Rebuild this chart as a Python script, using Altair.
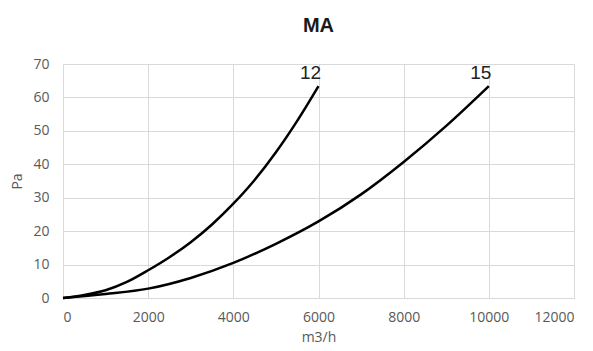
import altair as alt
import pandas as pd

# Curve "12"
q12 = [0, 500, 1000, 1500, 2000, 2500, 3000, 3500, 4000, 4500, 5000, 5500, 6000]
dp12 = [0, 0.9, 2.3, 4.8, 8.3, 12.2, 16.7, 22.0, 28.2, 35.3, 43.6, 53.0, 63.4]
# Curve "15"
q15 = [0, 1000, 2000, 3000, 4000, 5000, 6000, 7000, 8000, 9000, 10000]
dp15 = [0, 1.2, 2.8, 6.0, 10.5, 16.2, 22.9, 31.0, 40.7, 51.5, 63.4]

series_names = ["12", "15"]
x_ticks = [0, 2000, 4000, 6000, 8000, 10000, 12000]
y_ticks = [0, 10, 20, 30, 40, 50, 60, 70]

df = pd.concat([
    pd.DataFrame({"q": q12, "dp": dp12, "s": series_names[0]}),
    pd.DataFrame({"q": q15, "dp": dp15, "s": series_names[1]}),
])
labels = pd.DataFrame({
    "q": [q12[-1], q15[-1]],
    "dp": [dp12[-1], dp15[-1]],
    "s": series_names,
})

FONT = "Open Sans"
GRID = "#d9d9d9"

x = alt.X("q:Q", scale=alt.Scale(domain=[0, 12000], nice=False),
          axis=alt.Axis(values=x_ticks, format="d", title="m3/h", grid=True,
                        gridColor=GRID, domainColor=GRID, ticks=False,
                        labelPadding=12, titlePadding=6))
y = alt.Y("dp:Q", scale=alt.Scale(domain=[0, 70], nice=False),
          axis=alt.Axis(values=y_ticks, title="Pa", grid=True,
                        gridColor=GRID, domainColor=GRID, ticks=False,
                        labelPadding=14, titlePadding=8))

lines = alt.Chart(df).mark_line(color="black", strokeWidth=2.5,
                                interpolate="monotone").encode(
    x=x, y=y, detail="s:N")

text = alt.Chart(labels).mark_text(font="Liberation Sans", fontSize=19,
                                   color="#222222", align="center",
                                   baseline="bottom", dx=-8, dy=-3).encode(
    x=x, y=y, text="s:N")

chart = (lines + text).properties(
    width=511, height=234,
    autosize=alt.AutoSizeParams(type="none"),
    padding={"left": 55, "top": 56, "right": 11, "bottom": 50},
    title=alt.TitleParams("MA", font="Liberation Sans", fontSize=20,
                          fontWeight="bold", color="#1a1a1a", offset=21,
                          anchor="middle"),
).configure_axis(
    labelFont=FONT, labelFontSize=14, labelColor="#595959",
    titleFont=FONT, titleFontSize=14, titleColor="#595959",
    titleFontWeight="normal",
).configure_view(stroke=None)

chart.save("out.html", embed_options={"renderer": "svg", "actions": False})
